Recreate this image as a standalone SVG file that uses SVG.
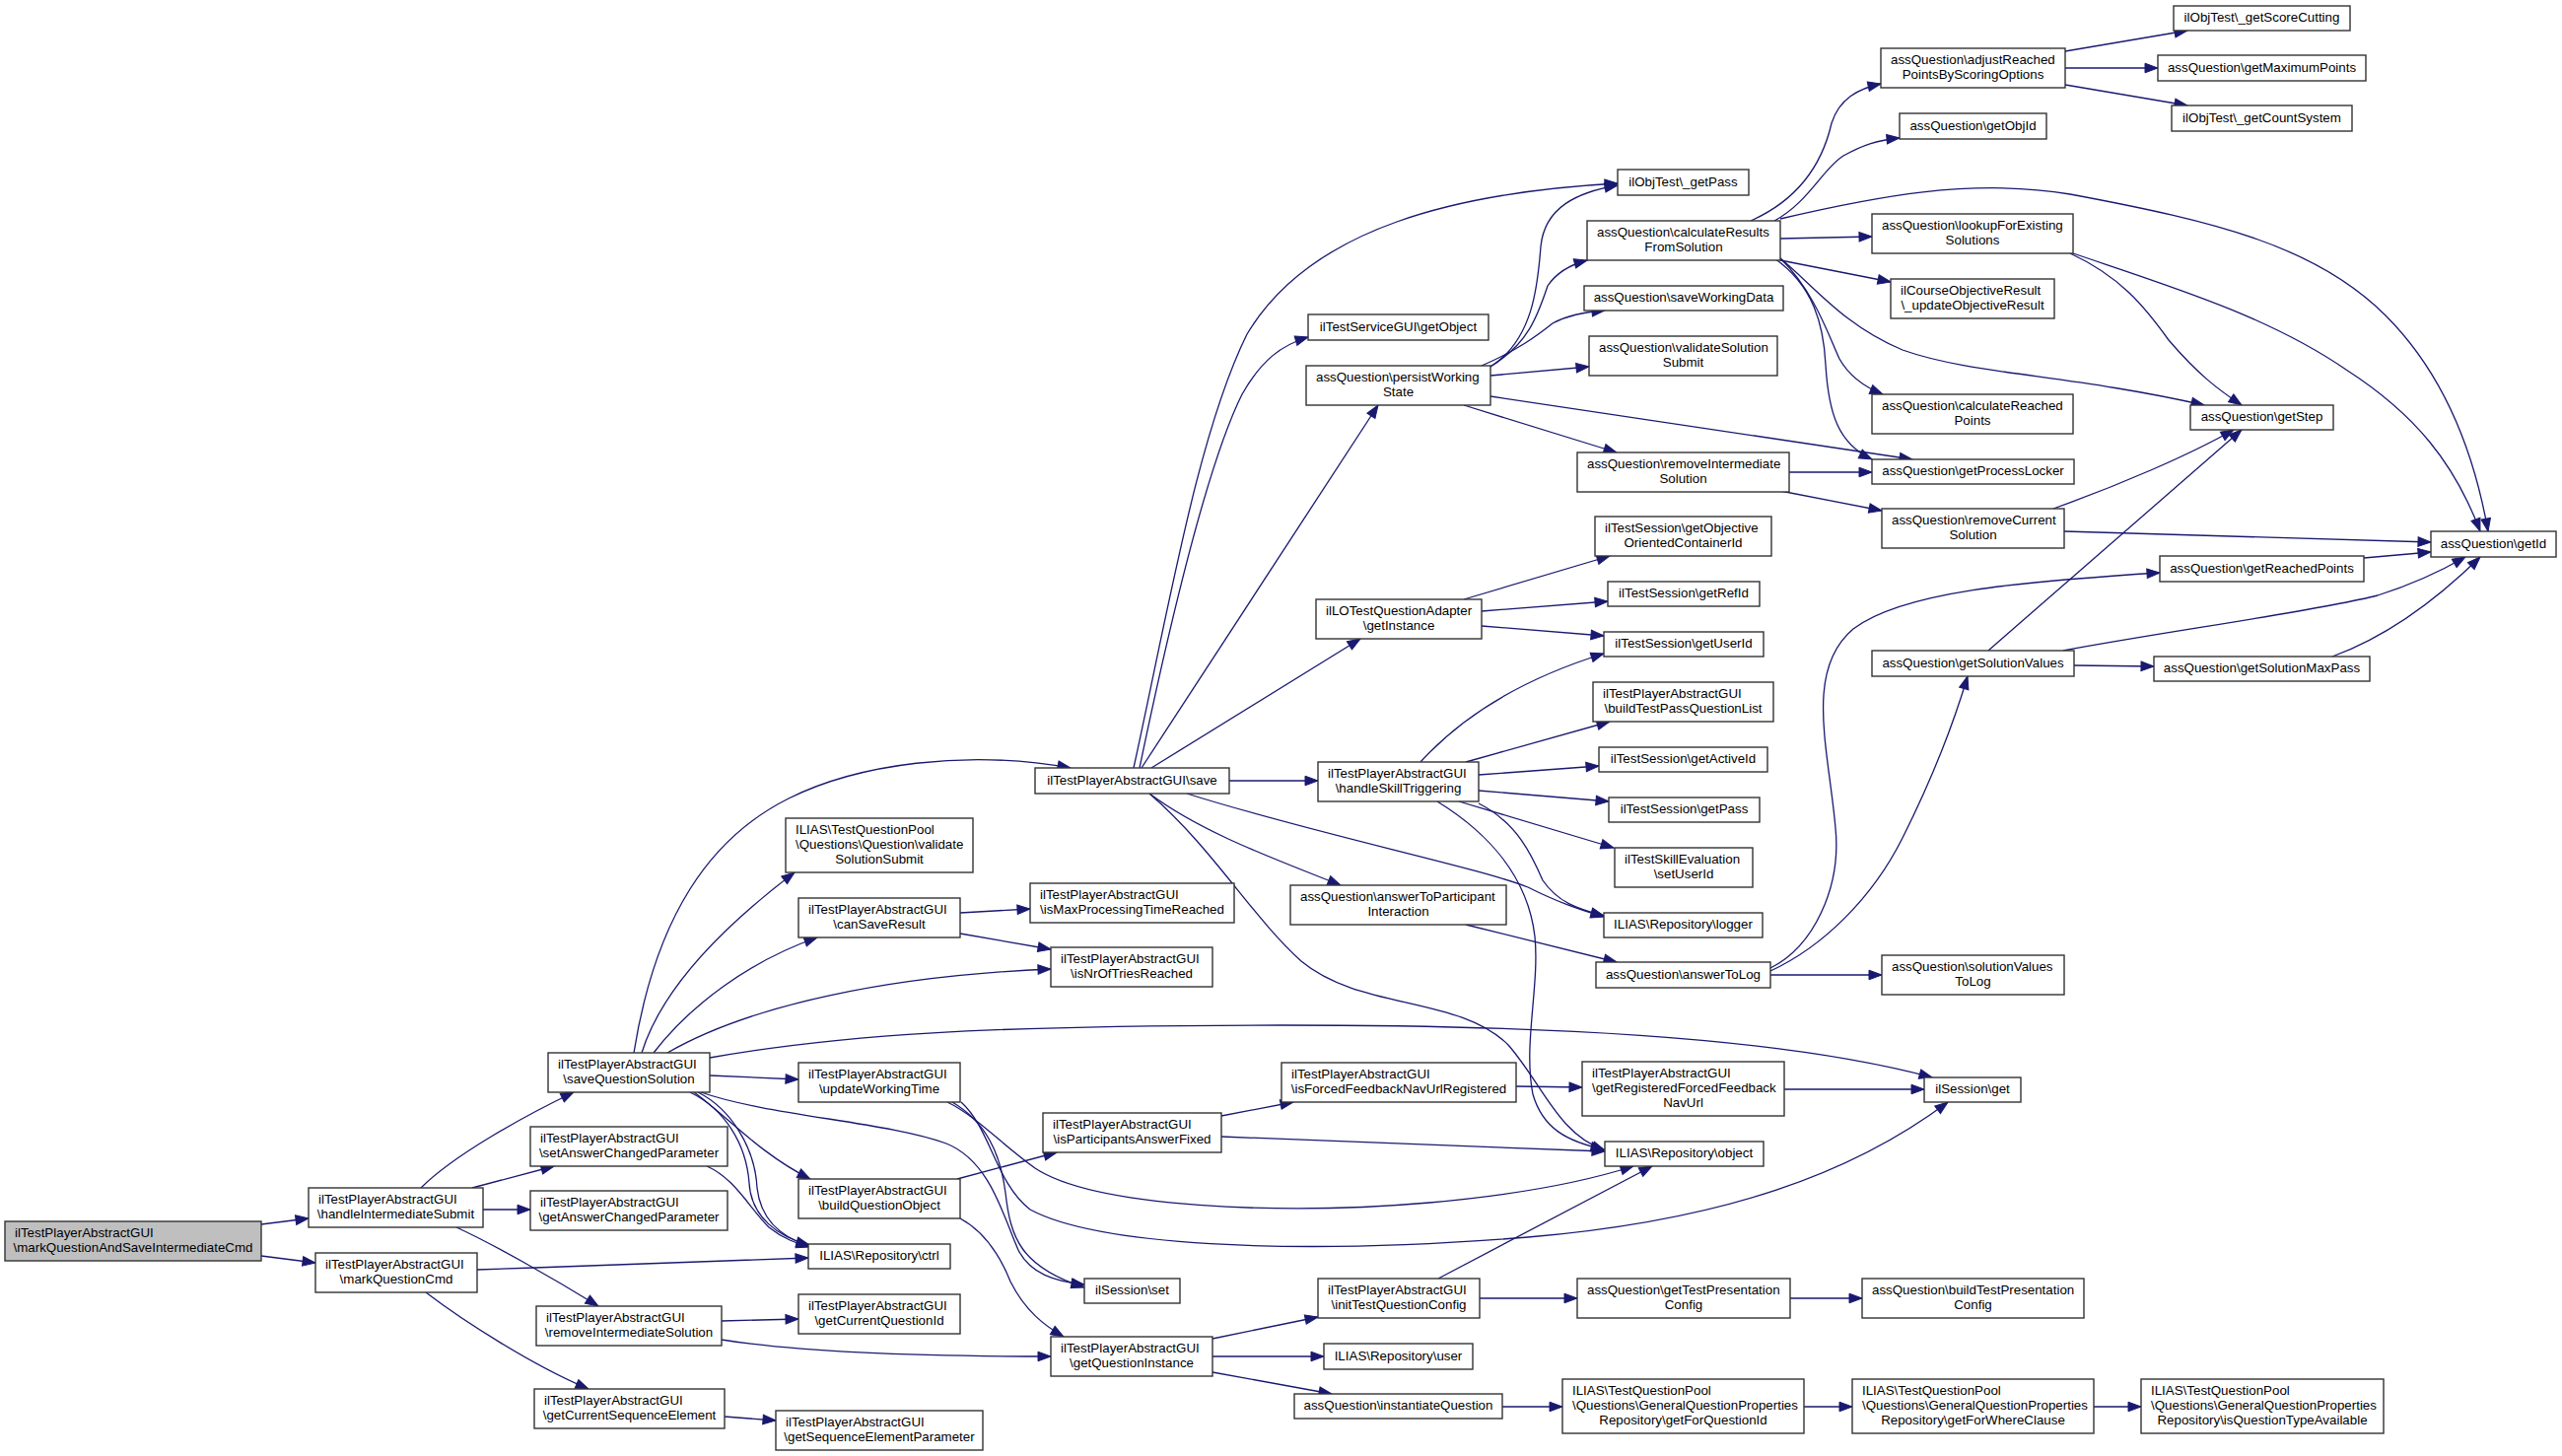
<svg xmlns="http://www.w3.org/2000/svg" width="2599" height="1477" viewBox="0 0 2599 1477">
<style>
.n rect{fill:#ffffff;stroke:#333333;stroke-width:1.4}
.n.root rect{fill:#bfbfbf}
.n text{font-family:"Liberation Sans",Arial,Helvetica,sans-serif;font-size:13.33px;fill:#000000}
.n text.c{text-anchor:middle}
#edges path{fill:none;stroke:#191970;stroke-width:1.3;marker-end:url(#ah)}
</style>
<defs>
<marker id="ah" markerUnits="userSpaceOnUse" markerWidth="14" markerHeight="11" refX="13" refY="4.8" orient="auto" overflow="visible">
<path d="M0,0 L13,4.8 L0,9.6 z" fill="#191970" stroke="#191970" stroke-width="1"/>
</marker>
</defs>
<rect width="2599" height="1477" fill="#ffffff"/>
<g id="edges">
<path d="M265,1242 L313,1236"/>
<path d="M265,1274 L320,1281"/>
<path d="M427,1205 C460,1172 530,1133 582,1108"/>
<path d="M479,1205 L562,1183"/>
<path d="M490,1227 L538,1227"/>
<path d="M463,1245 C500,1262 560,1296 607,1325"/>
<path d="M484,1288 C600,1284 720,1280 820,1276"/>
<path d="M432,1311 C470,1340 540,1385 597,1409"/>
<path d="M643,1068 C665,930 720,850 800,810 C870,775 980,760 1086,779"/>
<path d="M651,1068 C672,1000 740,935 806,885"/>
<path d="M663,1068 C700,1020 760,975 829,951"/>
<path d="M677,1068 C760,1020 900,990 1066,983"/>
<path d="M720,1073 C850,1050 1000,1040 1300,1040 C1550,1040 1800,1050 1960,1093"/>
<path d="M720,1091 L810,1095"/>
<path d="M704,1108 C735,1130 770,1170 822,1196"/>
<path d="M700,1108 C735,1125 757,1160 760,1200 C762,1235 790,1255 821,1263"/>
<path d="M708,1108 C742,1125 766,1165 768,1205 C772,1240 795,1256 821,1264"/>
<path d="M717,1183 C745,1195 760,1225 780,1245 C795,1257 808,1261 821,1265"/>
<path d="M711,1108 C780,1132 900,1138 960,1160 C1005,1178 1018,1235 1033,1268 C1045,1292 1070,1300 1100,1303"/>
<path d="M966,1118 C1000,1138 1015,1170 1020,1210 C1025,1255 1035,1285 1100,1306"/>
<path d="M961,1118 C990,1132 1015,1160 1050,1185 C1110,1225 1300,1233 1450,1220 C1540,1212 1610,1198 1657,1183"/>
<path d="M975,1118 C1005,1145 1010,1200 1045,1227 C1110,1262 1300,1275 1550,1255 C1750,1238 1880,1190 1976,1118"/>
<path d="M974,926 L1045,922"/>
<path d="M974,947 L1066,963"/>
<path d="M971,1196 L1072,1169"/>
<path d="M974,1236 C1000,1250 1015,1275 1025,1300 C1040,1330 1060,1345 1079,1356"/>
<path d="M732,1340 L810,1338"/>
<path d="M732,1359 C800,1370 900,1376 1066,1376"/>
<path d="M735,1437 L787,1441"/>
<path d="M1239,1132 L1312,1118"/>
<path d="M1239,1153 C1400,1160 1500,1163 1628,1168"/>
<path d="M1538,1102 L1605,1103"/>
<path d="M1810,1105 L1952,1105"/>
<path d="M1230,1358 L1337,1336"/>
<path d="M1230,1376 L1343,1376"/>
<path d="M1230,1392 L1351,1414"/>
<path d="M1459,1297 L1676,1183"/>
<path d="M1501,1317 L1600,1317"/>
<path d="M1816,1317 L1889,1317"/>
<path d="M1524,1427 L1585,1427"/>
<path d="M1830,1427 L1879,1427"/>
<path d="M2124,1427 L2172,1427"/>
<path d="M1150,779 C1185,620 1215,440 1265,339 C1330,230 1480,195 1641,186"/>
<path d="M1156,779 C1185,640 1225,470 1260,400 C1280,365 1300,350 1327,342"/>
<path d="M1158,779 L1398,411"/>
<path d="M1168,779 L1380,648"/>
<path d="M1247,792 L1337,792"/>
<path d="M1204,805 C1330,845 1500,880 1550,900 C1580,915 1600,922 1627,930"/>
<path d="M1166,805 C1220,845 1290,870 1360,898"/>
<path d="M1166,805 C1230,860 1270,930 1320,975 C1380,1025 1480,1010 1530,1060 C1565,1100 1580,1150 1628,1167"/>
<path d="M1512,372 C1555,345 1560,290 1563,250 C1567,210 1600,195 1641,188"/>
<path d="M1510,373 C1550,350 1560,320 1570,290 C1580,275 1595,268 1610,264"/>
<path d="M1503,371 C1540,355 1560,340 1575,328 C1590,320 1605,317 1628,315"/>
<path d="M1512,381 L1612,372"/>
<path d="M1512,402 L1940,466"/>
<path d="M1485,411 L1640,459"/>
<path d="M1776,224 C1830,200 1850,160 1858,125 C1866,100 1885,90 1908,85"/>
<path d="M1800,224 C1835,205 1850,170 1870,158 C1890,147 1905,142 1927,140"/>
<path d="M1806,222 C1900,200 2000,180 2100,197 C2250,225 2350,250 2420,320 C2480,380 2510,460 2524,539"/>
<path d="M1806,242 L1899,240"/>
<path d="M1806,264 L1918,286"/>
<path d="M1806,262 C1840,290 1870,330 1930,355 C2000,380 2100,380 2236,411"/>
<path d="M1806,262 C1840,295 1855,340 1866,364 C1875,380 1890,392 1910,400"/>
<path d="M1800,262 C1840,290 1850,330 1852,370 C1855,420 1865,450 1899,466"/>
<path d="M2100,257 C2150,280 2175,310 2200,345 C2230,380 2250,395 2274,411"/>
<path d="M2103,257 C2200,290 2300,320 2380,375 C2450,420 2490,470 2516,539"/>
<path d="M2095,52 L2219,31"/>
<path d="M2095,69 L2189,69"/>
<path d="M2095,86 L2219,107"/>
<path d="M1815,479 L1899,479"/>
<path d="M1806,498 L1909,518"/>
<path d="M2083,516 C2150,492 2220,462 2266,436"/>
<path d="M2094,539 L2466,550"/>
<path d="M2017,660 L2274,436"/>
<path d="M2093,660 C2200,640 2350,620 2412,604 C2450,592 2475,580 2501,565"/>
<path d="M2104,675 L2185,676"/>
<path d="M2398,566 L2466,560"/>
<path d="M2366,666 C2410,650 2460,620 2516,565"/>
<path d="M1796,982 C1840,960 1868,900 1862,840 C1855,760 1830,680 1880,638 C1930,600 2050,590 2191,581"/>
<path d="M1796,985 C1850,960 1900,910 1930,850 C1960,790 1980,740 1996,686"/>
<path d="M1796,989 L1909,989"/>
<path d="M1487,938 L1640,976"/>
<path d="M1485,608 L1633,564"/>
<path d="M1503,620 L1631,610"/>
<path d="M1503,635 L1627,645"/>
<path d="M1441,773 C1480,730 1540,690 1627,663"/>
<path d="M1487,773 L1633,732"/>
<path d="M1500,786 L1622,777"/>
<path d="M1500,802 L1632,813"/>
<path d="M1480,813 L1637,860"/>
<path d="M1500,815 C1540,835 1555,870 1565,893 C1580,915 1600,922 1627,929"/>
<path d="M1458,813 C1510,845 1550,890 1557,950 C1562,1000 1545,1060 1555,1110 C1565,1145 1590,1158 1627,1166"/>
</g>
<g id="n0" class="n root"><rect x="5" y="1239" width="260" height="40"/><text x="15" y="1255">ilTestPlayerAbstractGUI</text><text class="c" x="135" y="1270">\markQuestionAndSaveIntermediateCmd</text></g>
<g id="n1" class="n"><rect x="313" y="1205" width="177" height="40"/><text x="323" y="1221">ilTestPlayerAbstractGUI</text><text class="c" x="401.5" y="1236">\handleIntermediateSubmit</text></g>
<g id="n2" class="n"><rect x="320" y="1271" width="164" height="40"/><text x="330" y="1287">ilTestPlayerAbstractGUI</text><text class="c" x="402" y="1302">\markQuestionCmd</text></g>
<g id="n3" class="n"><rect x="556" y="1068" width="164" height="40"/><text x="566" y="1084">ilTestPlayerAbstractGUI</text><text class="c" x="638" y="1099">\saveQuestionSolution</text></g>
<g id="n4" class="n"><rect x="538" y="1143" width="200" height="40"/><text x="548" y="1159">ilTestPlayerAbstractGUI</text><text class="c" x="638" y="1174">\setAnswerChangedParameter</text></g>
<g id="n5" class="n"><rect x="538" y="1208" width="200" height="40"/><text x="548" y="1224">ilTestPlayerAbstractGUI</text><text class="c" x="638" y="1239">\getAnswerChangedParameter</text></g>
<g id="n6" class="n"><rect x="544" y="1325" width="188" height="40"/><text x="554" y="1341">ilTestPlayerAbstractGUI</text><text class="c" x="638" y="1356">\removeIntermediateSolution</text></g>
<g id="n7" class="n"><rect x="542" y="1409" width="193" height="40"/><text x="552" y="1425">ilTestPlayerAbstractGUI</text><text class="c" x="638.5" y="1440">\getCurrentSequenceElement</text></g>
<g id="n8" class="n"><rect x="797" y="830" width="190" height="55"/><text x="807" y="846">ILIAS\TestQuestionPool</text><text x="807" y="861">\Questions\Question\validate</text><text class="c" x="892" y="876">SolutionSubmit</text></g>
<g id="n9" class="n"><rect x="810" y="911" width="164" height="40"/><text x="820" y="927">ilTestPlayerAbstractGUI</text><text class="c" x="892" y="942">\canSaveResult</text></g>
<g id="n10" class="n"><rect x="810" y="1078" width="164" height="40"/><text x="820" y="1094">ilTestPlayerAbstractGUI</text><text class="c" x="892" y="1109">\updateWorkingTime</text></g>
<g id="n11" class="n"><rect x="810" y="1196" width="164" height="40"/><text x="820" y="1212">ilTestPlayerAbstractGUI</text><text class="c" x="892" y="1227">\buildQuestionObject</text></g>
<g id="n12" class="n"><rect x="820" y="1262" width="144" height="25"/><text class="c" x="892" y="1278">ILIAS\Repository\ctrl</text></g>
<g id="n13" class="n"><rect x="810" y="1313" width="164" height="40"/><text x="820" y="1329">ilTestPlayerAbstractGUI</text><text class="c" x="892" y="1344">\getCurrentQuestionId</text></g>
<g id="n14" class="n"><rect x="787" y="1431" width="210" height="40"/><text x="797" y="1447">ilTestPlayerAbstractGUI</text><text class="c" x="892" y="1462">\getSequenceElementParameter</text></g>
<g id="n15" class="n"><rect x="1050" y="779" width="197" height="26"/><text class="c" x="1148.5" y="795.5">ilTestPlayerAbstractGUI\save</text></g>
<g id="n16" class="n"><rect x="1045" y="896" width="207" height="40"/><text x="1055" y="912">ilTestPlayerAbstractGUI</text><text class="c" x="1148.5" y="927">\isMaxProcessingTimeReached</text></g>
<g id="n17" class="n"><rect x="1066" y="961" width="164" height="40"/><text x="1076" y="977">ilTestPlayerAbstractGUI</text><text class="c" x="1148" y="992">\isNrOfTriesReached</text></g>
<g id="n18" class="n"><rect x="1058" y="1129" width="181" height="40"/><text x="1068" y="1145">ilTestPlayerAbstractGUI</text><text class="c" x="1148.5" y="1160">\isParticipantsAnswerFixed</text></g>
<g id="n19" class="n"><rect x="1100" y="1297" width="97" height="25"/><text class="c" x="1148.5" y="1313">ilSession\set</text></g>
<g id="n20" class="n"><rect x="1066" y="1356" width="164" height="40"/><text x="1076" y="1372">ilTestPlayerAbstractGUI</text><text class="c" x="1148" y="1387">\getQuestionInstance</text></g>
<g id="n21" class="n"><rect x="1327" y="319" width="183" height="26"/><text class="c" x="1418.5" y="335.5">ilTestServiceGUI\getObject</text></g>
<g id="n22" class="n"><rect x="1325" y="371" width="187" height="40"/><text x="1335" y="387">assQuestion\persistWorking</text><text class="c" x="1418.5" y="402">State</text></g>
<g id="n23" class="n"><rect x="1335" y="608" width="168" height="40"/><text x="1345" y="624">ilLOTestQuestionAdapter</text><text class="c" x="1419" y="639">\getInstance</text></g>
<g id="n24" class="n"><rect x="1337" y="773" width="163" height="40"/><text x="1347" y="789">ilTestPlayerAbstractGUI</text><text class="c" x="1418.5" y="804">\handleSkillTriggering</text></g>
<g id="n25" class="n"><rect x="1309" y="898" width="219" height="40"/><text x="1319" y="914">assQuestion\answerToParticipant</text><text class="c" x="1418.5" y="929">Interaction</text></g>
<g id="n26" class="n"><rect x="1300" y="1078" width="238" height="40"/><text x="1310" y="1094">ilTestPlayerAbstractGUI</text><text class="c" x="1419" y="1109">\isForcedFeedbackNavUrlRegistered</text></g>
<g id="n27" class="n"><rect x="1337" y="1297" width="164" height="40"/><text x="1347" y="1313">ilTestPlayerAbstractGUI</text><text class="c" x="1419" y="1328">\initTestQuestionConfig</text></g>
<g id="n28" class="n"><rect x="1343" y="1363" width="151" height="26"/><text class="c" x="1418.5" y="1379.5">ILIAS\Repository\user</text></g>
<g id="n29" class="n"><rect x="1313" y="1414" width="211" height="25"/><text class="c" x="1418.5" y="1430">assQuestion\instantiateQuestion</text></g>
<g id="n30" class="n"><rect x="1641" y="172" width="133" height="26"/><text class="c" x="1707.5" y="188.5">ilObjTest\_getPass</text></g>
<g id="n31" class="n"><rect x="1610" y="224" width="196" height="40"/><text x="1620" y="240">assQuestion\calculateResults</text><text class="c" x="1708" y="255">FromSolution</text></g>
<g id="n32" class="n"><rect x="1607" y="290" width="202" height="25"/><text class="c" x="1708" y="306">assQuestion\saveWorkingData</text></g>
<g id="n33" class="n"><rect x="1612" y="341" width="191" height="40"/><text x="1622" y="357">assQuestion\validateSolution</text><text class="c" x="1707.5" y="372">Submit</text></g>
<g id="n34" class="n"><rect x="1600" y="459" width="215" height="40"/><text x="1610" y="475">assQuestion\removeIntermediate</text><text class="c" x="1707.5" y="490">Solution</text></g>
<g id="n35" class="n"><rect x="1618" y="524" width="179" height="40"/><text x="1628" y="540">ilTestSession\getObjective</text><text class="c" x="1707.5" y="555">OrientedContainerId</text></g>
<g id="n36" class="n"><rect x="1631" y="590" width="154" height="25"/><text class="c" x="1708" y="606">ilTestSession\getRefId</text></g>
<g id="n37" class="n"><rect x="1627" y="641" width="162" height="25"/><text class="c" x="1708" y="657">ilTestSession\getUserId</text></g>
<g id="n38" class="n"><rect x="1616" y="692" width="183" height="40"/><text x="1626" y="708">ilTestPlayerAbstractGUI</text><text class="c" x="1707.5" y="723">\buildTestPassQuestionList</text></g>
<g id="n39" class="n"><rect x="1622" y="758" width="171" height="25"/><text class="c" x="1707.5" y="774">ilTestSession\getActiveId</text></g>
<g id="n40" class="n"><rect x="1632" y="809" width="153" height="25"/><text class="c" x="1708.5" y="825">ilTestSession\getPass</text></g>
<g id="n41" class="n"><rect x="1638" y="860" width="140" height="40"/><text x="1648" y="876">ilTestSkillEvaluation</text><text class="c" x="1708" y="891">\setUserId</text></g>
<g id="n42" class="n"><rect x="1627" y="926" width="161" height="25"/><text class="c" x="1707.5" y="942">ILIAS\Repository\logger</text></g>
<g id="n43" class="n"><rect x="1619" y="976" width="177" height="26"/><text class="c" x="1707.5" y="992.5">assQuestion\answerToLog</text></g>
<g id="n44" class="n"><rect x="1605" y="1077" width="205" height="55"/><text x="1615" y="1093">ilTestPlayerAbstractGUI</text><text x="1615" y="1108">\getRegisteredForcedFeedback</text><text class="c" x="1707.5" y="1123">NavUrl</text></g>
<g id="n45" class="n"><rect x="1628" y="1158" width="161" height="25"/><text class="c" x="1708.5" y="1174">ILIAS\Repository\object</text></g>
<g id="n46" class="n"><rect x="1600" y="1297" width="216" height="40"/><text x="1610" y="1313">assQuestion\getTestPresentation</text><text class="c" x="1708" y="1328">Config</text></g>
<g id="n47" class="n"><rect x="1585" y="1399" width="245" height="55"/><text x="1595" y="1415">ILIAS\TestQuestionPool</text><text x="1595" y="1430">\Questions\GeneralQuestionProperties</text><text class="c" x="1707.5" y="1445">Repository\getForQuestionId</text></g>
<g id="n48" class="n"><rect x="1908" y="49" width="187" height="40"/><text x="1918" y="65">assQuestion\adjustReached</text><text class="c" x="2001.5" y="80">PointsByScoringOptions</text></g>
<g id="n49" class="n"><rect x="1927" y="115" width="149" height="26"/><text class="c" x="2001.5" y="131.5">assQuestion\getObjId</text></g>
<g id="n50" class="n"><rect x="1899" y="217" width="204" height="40"/><text x="1909" y="233">assQuestion\lookupForExisting</text><text class="c" x="2001" y="248">Solutions</text></g>
<g id="n51" class="n"><rect x="1918" y="283" width="166" height="40"/><text x="1928" y="299">ilCourseObjectiveResult</text><text class="c" x="2001" y="314">\_updateObjectiveResult</text></g>
<g id="n52" class="n"><rect x="1899" y="400" width="204" height="40"/><text x="1909" y="416">assQuestion\calculateReached</text><text class="c" x="2001" y="431">Points</text></g>
<g id="n53" class="n"><rect x="1899" y="466" width="205" height="25"/><text class="c" x="2001.5" y="482">assQuestion\getProcessLocker</text></g>
<g id="n54" class="n"><rect x="1909" y="516" width="185" height="40"/><text x="1919" y="532">assQuestion\removeCurrent</text><text class="c" x="2001.5" y="547">Solution</text></g>
<g id="n55" class="n"><rect x="1899" y="660" width="205" height="26"/><text class="c" x="2001.5" y="676.5">assQuestion\getSolutionValues</text></g>
<g id="n56" class="n"><rect x="1909" y="969" width="185" height="40"/><text x="1919" y="985">assQuestion\solutionValues</text><text class="c" x="2001.5" y="1000">ToLog</text></g>
<g id="n57" class="n"><rect x="1952" y="1093" width="98" height="25"/><text class="c" x="2001" y="1109">ilSession\get</text></g>
<g id="n58" class="n"><rect x="1889" y="1297" width="225" height="40"/><text x="1899" y="1313">assQuestion\buildTestPresentation</text><text class="c" x="2001.5" y="1328">Config</text></g>
<g id="n59" class="n"><rect x="1879" y="1399" width="245" height="55"/><text x="1889" y="1415">ILIAS\TestQuestionPool</text><text x="1889" y="1430">\Questions\GeneralQuestionProperties</text><text class="c" x="2001.5" y="1445">Repository\getForWhereClause</text></g>
<g id="n60" class="n"><rect x="2205" y="6" width="179" height="25"/><text class="c" x="2294.5" y="22">ilObjTest\_getScoreCutting</text></g>
<g id="n61" class="n"><rect x="2189" y="56" width="211" height="26"/><text class="c" x="2294.5" y="72.5">assQuestion\getMaximumPoints</text></g>
<g id="n62" class="n"><rect x="2203" y="107" width="183" height="26"/><text class="c" x="2294.5" y="123.5">ilObjTest\_getCountSystem</text></g>
<g id="n63" class="n"><rect x="2222" y="411" width="145" height="25"/><text class="c" x="2294.5" y="427">assQuestion\getStep</text></g>
<g id="n64" class="n"><rect x="2191" y="564" width="207" height="26"/><text class="c" x="2294.5" y="580.5">assQuestion\getReachedPoints</text></g>
<g id="n65" class="n"><rect x="2185" y="666" width="219" height="25"/><text class="c" x="2294.5" y="682">assQuestion\getSolutionMaxPass</text></g>
<g id="n66" class="n"><rect x="2172" y="1399" width="246" height="55"/><text x="2182" y="1415">ILIAS\TestQuestionPool</text><text x="2182" y="1430">\Questions\GeneralQuestionProperties</text><text class="c" x="2295" y="1445">Repository\isQuestionTypeAvailable</text></g>
<g id="n67" class="n"><rect x="2466" y="539" width="127" height="26"/><text class="c" x="2529.5" y="555.5">assQuestion\getId</text></g>
</svg>
